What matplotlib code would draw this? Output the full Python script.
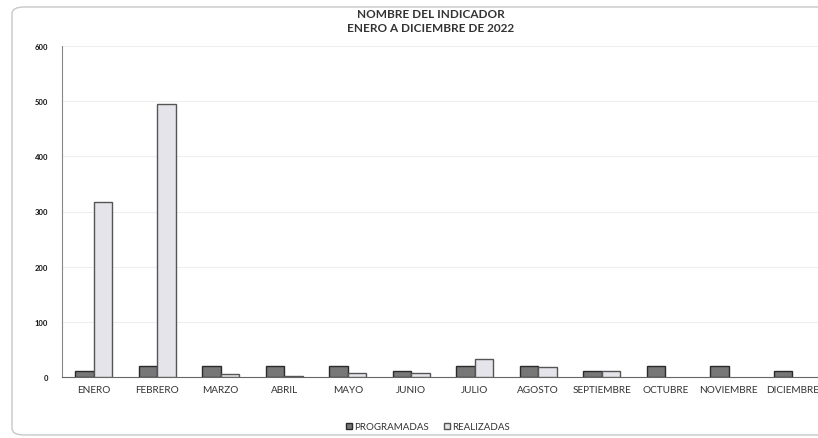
import matplotlib
matplotlib.use('Agg')
import matplotlib.pyplot as plt
from matplotlib.patches import FancyBboxPatch
import numpy as np

months = ['ENERO', 'FEBRERO', 'MARZO', 'ABRIL', 'MAYO', 'JUNIO', 'JULIO',
          'AGOSTO', 'SEPTIEMBRE', 'OCTUBRE', 'NOVIEMBRE', 'DICIEMBRE']
programadas = [10, 20, 20, 20, 20, 10, 20, 20, 10, 20, 20, 10]
realizadas = [318, 495, 5, 2, 7, 8, 32, 19, 10, 0, 0, 0]
yticks = [0, 100, 200, 300, 400, 500, 600]

plt.rcParams['font.family'] = ['Lato', 'DejaVu Sans']

fig = plt.figure(figsize=(8.18, 4.39), dpi=100)
# rounded frame around the chart (drawn behind the axes)
frame = FancyBboxPatch((12 / 818, 3 / 439), 1.2, 428 / 439,
                       boxstyle='round,pad=0,rounding_size=0.015',
                       transform=fig.transFigure, fc='none', ec='#c8c8c8', lw=1,
                       zorder=-1)
fig.patches.append(frame)

ax = fig.add_axes([62 / 818, (439 - 378) / 439, 1 - 62 / 818, 331 / 439])
x = np.arange(len(months))
w = 0.29
ax.bar(x - w / 2, programadas, w, color='#777777', edgecolor='#2a2a2a',
       linewidth=[1 if v > 0 else 0 for v in programadas],
       label='PROGRAMADAS', zorder=3)
ax.bar(x + w / 2, realizadas, w, color='#e4e4ea', edgecolor='#555555',
       linewidth=[1 if v > 0 else 0 for v in realizadas],
       label='REALIZADAS', zorder=3)

ax.set_ylim(0, 600)
ax.set_xlim(-0.5, (818 - 62) / 63.5 - 0.5)
ax.set_yticks(yticks)
ax.set_yticklabels([str(t) for t in yticks], fontsize=5.5, fontweight='bold',
                   color='#111111')
ax.set_xticks(x)
ax.set_xticklabels(months, fontsize=7.2, color='#333333')
ax.tick_params(axis='both', length=0)
ax.tick_params(axis='x', pad=6)
ax.tick_params(axis='y', pad=10)
ax.grid(axis='y', color='#eeeeee', lw=0.8, zorder=0)
for s in ['top', 'right']:
    ax.spines[s].set_visible(False)
ax.spines['left'].set_color('#888888')
ax.spines['bottom'].set_color('#666666')
ax.set_facecolor('none')

fig.text(431 / 818, 1 - 15 / 439, 'NOMBRE DEL INDICADOR', ha='center', va='center',
         fontsize=8.5, fontweight='bold', color='#333333')
fig.text(431 / 818, 1 - 29 / 439, 'ENERO A DICIEMBRE DE 2022', ha='center', va='center',
         fontsize=8.5, fontweight='bold', color='#333333')

fig.legend(loc='center', bbox_to_anchor=(428 / 818, 1 - 428 / 439), ncol=2,
           frameon=False, fontsize=7, handlelength=0.6, handleheight=0.6,
           handletextpad=0.3, columnspacing=1.5, labelcolor='#333333')

plt.savefig('out.png', dpi=100)
plt.close()
